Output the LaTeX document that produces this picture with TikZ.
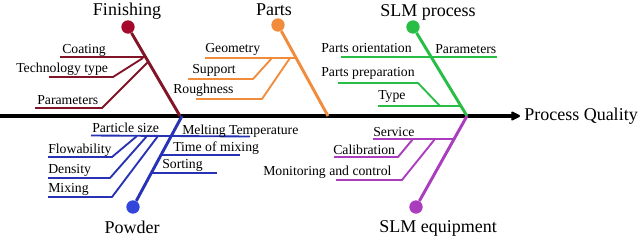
\documentclass[tikz,border=0pt]{standalone}
\usepackage{fontspec}
\setmainfont{Liberation Serif}
\usetikzlibrary{arrows.meta}
\definecolor{fin}{RGB}{130,20,40}
\definecolor{finc}{RGB}{165,10,45}
\definecolor{prt}{RGB}{240,140,60}
\definecolor{slmp}{RGB}{40,190,70}
\definecolor{pow}{RGB}{40,50,180}
\definecolor{powc}{RGB}{50,70,220}
\definecolor{equ}{RGB}{170,60,190}
\begin{document}
\begin{tikzpicture}[x=0.75pt,y=-0.75pt,
 lbl/.style={font=\fontsize{10.3}{12}\selectfont, inner sep=0pt, anchor=base west},
 cat/.style={font=\fontsize{13.5}{16}\selectfont, inner sep=0pt, anchor=base},
 bone/.style={line width=2.2pt},
 twig/.style={line width=1.4pt, line join=round},
 head/.style={circle, inner sep=0pt, minimum size=10pt}]
\useasboundingbox (0,0) rectangle (640,240);
% main spine
\coordinate (ms) at (0,116);
\node[cat, anchor=base west, inner sep=0pt] (pq) at (524,120) {Process Quality};
\draw[line width=3pt,-{Stealth[length=8.5pt,width=8.5pt,inset=2pt,round]}] (ms) -- ([xshift=-3pt]ms -| pq.west);

% Finishing
\node[head,fill=finc] (fh) at (128,27) {};
\coordinate (fe) at (180,116);
\draw[bone,fin] (fh) -- (fe);
\node[cat] (fcat) at (127,15) {Finishing};
\coordinate (f1a) at (60,57); \coordinate (f1b) at (145,57);
\draw[twig,fin] (f1a) -- (f1b);
\coordinate (f2a) at (49,77); \coordinate (f2b) at (113,77); \coordinate (f2c) at (143,58);
\draw[twig,fin] (f2a) -- (f2b) -- (f2c);
\coordinate (f3a) at (35,108); \coordinate (f3b) at (102,108); \coordinate (f3c) at (148,62);
\draw[twig,fin] (f3a) -- (f3b) -- (f3c);
\node[lbl] (fcoat) at (62,53) {Coating};
\node[lbl] (ftech) at (16,72) {Technology type};
\node[lbl] (fpar) at (37,104) {Parameters};

% Parts
\node[head,fill=prt] (ph) at (278,25) {};
\coordinate (pe) at (328,116);
\draw[bone,prt] (ph) -- (pe);
\node[cat] (pcat) at (274,15) {Parts};
\coordinate (p1a) at (205,58); \coordinate (p1b) at (296,58);
\draw[twig,prt] (p1a) -- (p1b);
\coordinate (p2a) at (188,79); \coordinate (p2b) at (253,79); \coordinate (p2c) at (272,58);
\draw[twig,prt] (p2a) -- (p2b) -- (p2c);
\coordinate (p3a) at (196,99); \coordinate (p3b) at (262,99); \coordinate (p3c) at (290,58);
\draw[twig,prt] (p3a) -- (p3b) -- (p3c);
\node[lbl] (pgeo) at (205,52) {Geometry};
\node[lbl] (psup) at (192,73) {Support};
\node[lbl] (prou) at (173,93) {Roughness};

% SLM process
\node[head,fill=slmp] (sh) at (413,27) {};
\coordinate (se) at (467,116);
\draw[bone,slmp] (sh) -- (se);
\node[cat] (scat) at (428,16) {SLM process};
\coordinate (s1a) at (341,57); \coordinate (s1b) at (497,57);
\draw[twig,slmp] (s1a) -- (s1b);
\coordinate (s2a) at (338,83); \coordinate (s2b) at (418,83); \coordinate (s2c) at (440,106);
\draw[twig,slmp] (s2a) -- (s2b) -- (s2c);
\coordinate (s3a) at (378,106); \coordinate (s3b) at (461,106);
\draw[twig,slmp] (s3a) -- (s3b);
\node[lbl] (sori) at (321,52) {Parts orientation};
\node[lbl] (spar) at (435,53) {Parameters};
\node[lbl] (sprep) at (321,76) {Parts preparation};
\node[lbl] (stype) at (378,99) {Type};

% Powder
\node[head,fill=powc] (wh) at (133,207) {};
\coordinate (we) at (182,116);
\draw[bone,pow] (wh) -- (we);
\node[cat] (wcat) at (132,233) {Powder};
\coordinate (w1a) at (91,135.5); \coordinate (w1b) at (250,136.5);
\draw[twig,pow] (w1a) -- (w1b);
\coordinate (w2a) at (48,157); \coordinate (w2b) at (112,157); \coordinate (w2c) at (137,136);
\draw[twig,pow] (w2a) -- (w2b) -- (w2c);
\coordinate (w3a) at (48,178); \coordinate (w3b) at (110,178); \coordinate (w3c) at (147,136);
\draw[twig,pow] (w3a) -- (w3b) -- (w3c);
\coordinate (w4a) at (48,197); \coordinate (w4b) at (112,197); \coordinate (w4c) at (158,136);
\draw[twig,pow] (w4a) -- (w4b) -- (w4c);
\coordinate (w5a) at (161,155); \coordinate (w5b) at (240,155);
\draw[twig,pow] (w5a) -- (w5b);
\coordinate (w6a) at (151,173); \coordinate (w6b) at (217,173);
\draw[twig,pow] (w6a) -- (w6b);
\node[lbl] (wpart) at (92,132.5) {Particle size};
\node[lbl] (wmelt) at (182,134) {Melting Temperature};
\node[lbl] (wflow) at (48,153) {Flowability};
\node[lbl] (wdens) at (48,173) {Density};
\node[lbl] (wmix) at (48,192) {Mixing};
\node[lbl] (wtime) at (173,151) {Time of mixing};
\node[lbl] (wsort) at (162,168) {Sorting};

% SLM equipment
\node[head,fill=equ] (eh) at (416,207) {};
\coordinate (ee) at (467,116);
\draw[bone,equ] (eh) -- (ee);
\node[cat] (ecat) at (438,232) {SLM equipment};
\coordinate (e1a) at (373,139); \coordinate (e1b) at (454,139);
\draw[twig,equ] (e1a) -- (e1b);
\coordinate (e2a) at (334,157); \coordinate (e2b) at (398,157); \coordinate (e2c) at (413,139);
\draw[twig,equ] (e2a) -- (e2b) -- (e2c);
\coordinate (e3a) at (336,180); \coordinate (e3b) at (402,180); \coordinate (e3c) at (435,139);
\draw[twig,equ] (e3a) -- (e3b) -- (e3c);
\node[lbl] (eserv) at (373,136.5) {Service};
\node[lbl] (ecal) at (333,154) {Calibration};
\node[lbl] (emon) at (263,175) {Monitoring and control};
\end{tikzpicture}
\end{document}
